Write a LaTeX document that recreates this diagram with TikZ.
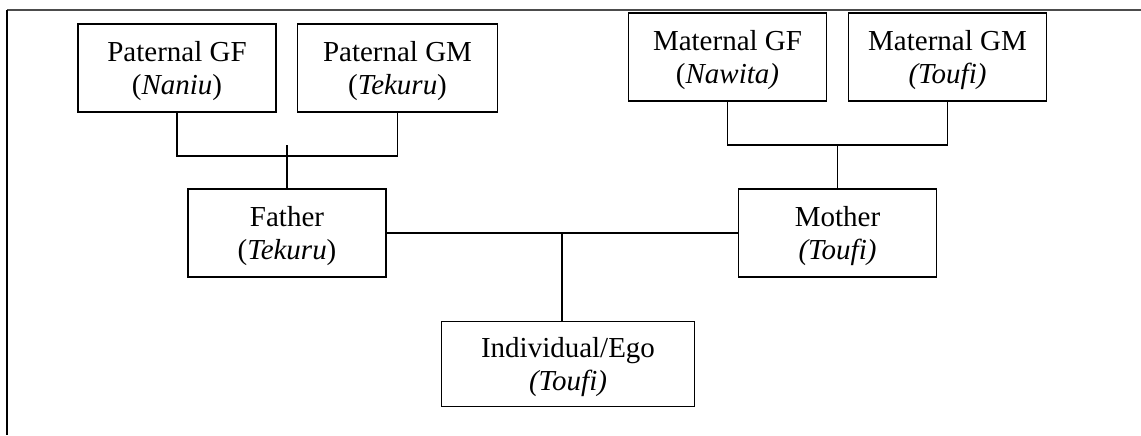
\documentclass[tikz,border=0pt]{standalone}
\usepackage{fontspec}
\setmainfont{Liberation Serif}
\usepackage{tikz}
\usetikzlibrary{calc}
\usetikzlibrary{arrows}
\tikzset{>=latex'}
\tikzset{kinbox/.style={draw,align=center,inner sep=0pt,line width=0.6pt,minimum width=82pt,minimum height=36.4pt,text depth=0pt}}

\begin{document}
\begin{tikzpicture}[x=0.414pt,y=-0.414pt,font=\fontsize{12}{14}\selectfont,line width=0.5pt]
	\useasboundingbox (0,0) rectangle (1141,435);
	\draw[black!70,line width=0.65pt] (7,10) -- (1141,10);
	\draw[line width=0.6pt] (7,10) -- (7,435);
	\node[kinbox] (patgf) at (177,68) {Paternal GF\\(\textit{Naniu})};
	\node[kinbox,minimum width=82.8pt] (patgm) at (397.5,68) {Paternal GM\\(\textit{Tekuru})};
	\node[kinbox] (matgf) at (727.5,57) {Maternal GF\\(\textit{Nawita)}};
	\node[kinbox] (matgm) at (947.5,57) {Maternal GM\\\textit{(Toufi)}};
	\node[kinbox] (father) at (287,233) {Father\\(\textit{Tekuru})};
	\node[kinbox] (mother) at (837.5,233) {Mother\\\textit{(Toufi)}};
	\node[kinbox,minimum width=104.6pt,minimum height=35.2pt] (ego) at (568,364) {Individual/Ego\\\textit{(Toufi)}};
	\coordinate (pj) at (287,156);
	\coordinate (pbar) at (287,145);
	\coordinate (mj) at (837.5,145);
	\coordinate (ej) at (562,233);
	\draw (patgf.south) |- (pj) -| (patgm.south);
	\draw (pbar) -- (father.north);
	\draw (matgf.south) |- (mj) -| (matgm.south);
	\draw (mj) -- (mother.north);
	\draw (father) -- (mother);
	\draw (ej) -- (ej |- ego.north);
\end{tikzpicture}
\end{document}
